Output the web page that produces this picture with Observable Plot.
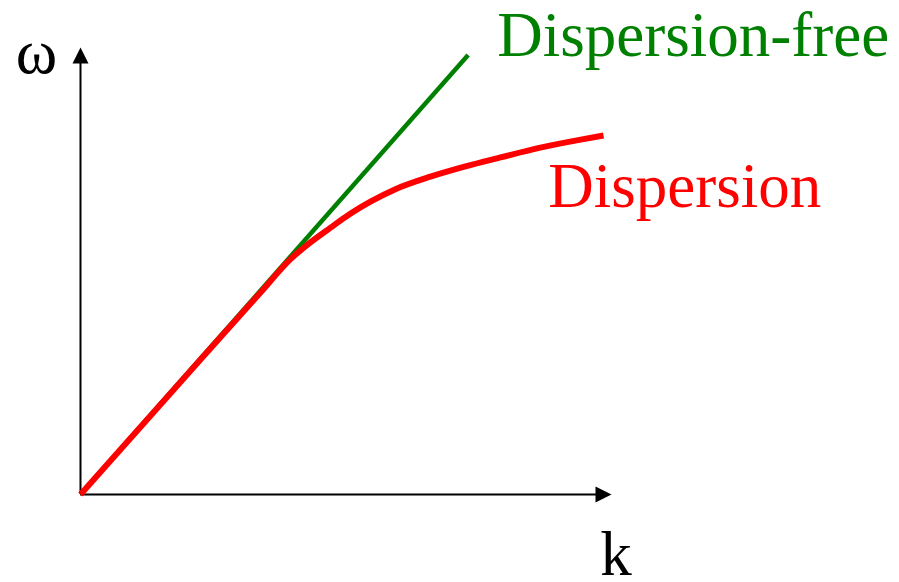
<!DOCTYPE html>
<html>
<head>
<meta charset="utf-8">
<script src="https://cdn.jsdelivr.net/npm/d3@7"></script>
<script src="https://cdn.jsdelivr.net/npm/@observablehq/plot@0.6"></script>
<style>
  html, body { margin: 0; padding: 0; background: #fff; }
  #chart svg { display: block; }
  #chart svg text { font-family: "Liberation Serif", Tinos, "Times New Roman", Times, "DejaVu Serif", serif; }
</style>
</head>
<body>
<div id="chart"></div>
<script>
// Dispersion relation ω(k): linear (dispersion-free) vs. saturating (dispersive)
const freeK = [0, 0.73];
const freeW = [0, 0.983];

const dispK = [0, 0.226, 0.339, 0.395, 0.433, 0.471, 0.508, 0.546, 0.593, 0.659, 0.725, 0.791, 0.866, 0.942, 0.985];
const dispW = [0, 0.302, 0.452, 0.526, 0.564, 0.597, 0.628, 0.655, 0.683, 0.711, 0.734, 0.754, 0.776, 0.794, 0.803];

// Axis extents (arrow tips) in k, ω units
const axisEndK = 1;
const axisEndW = 1;

// Text labels
const labelText = ["ω", "k", "Dispersion-free", "Dispersion"];
const labelK = [-0.122, 0.979, 0.785, 0.881];
const labelW = [0.944, -0.179, 0.982, 0.644];
const labelColor = ["black", "black", "green", "red"];

const freeLine = freeK.map((k, i) => ({k, w: freeW[i]}));
const dispLine = dispK.map((k, i) => ({k, w: dispW[i]}));
const labels = labelText.map((t, i) => ({t, k: labelK[i], w: labelW[i], c: labelColor[i]}));

// Filled arrowhead with its tip at the anchor point, pointing up
const arrowHead = {
  draw(context, size) {
    const h = 2 * Math.sqrt(size / Math.PI);
    context.moveTo(0, 0);
    context.lineTo(h / 2, h);
    context.lineTo(-h / 2, h);
    context.closePath();
  }
};

const serif = "Liberation Serif, Tinos, Times New Roman, Times, DejaVu Serif, serif";

const chart = Plot.plot({
  width: 899,
  height: 582,
  margin: 0,
  style: {fontFamily: serif, background: "white"},
  x: {domain: [0, 1], range: [80, 611], axis: null},
  y: {domain: [0, 1], range: [494, 47], axis: null},
  marks: [
    // axes
    Plot.ruleY([0], {x1: 0, x2: axisEndK - 0.02, stroke: "black", strokeWidth: 2}),
    Plot.ruleX([0], {y1: 0, y2: axisEndW - 0.02, stroke: "black", strokeWidth: 2}),
    Plot.dot([{k: axisEndK, w: 0}], {x: "k", y: "w", symbol: arrowHead, r: 8, fill: "black", stroke: "none", rotate: 90}),
    Plot.dot([{k: 0, w: axisEndW}], {x: "k", y: "w", symbol: arrowHead, r: 8, fill: "black", stroke: "none"}),
    // curves
    Plot.line(freeLine, {x: "k", y: "w", stroke: "green", strokeWidth: 4.5, strokeLinecap: "butt"}),
    Plot.line(dispLine, {x: "k", y: "w", stroke: "red", strokeWidth: 6, curve: "monotone-x", strokeLinecap: "butt"}),
    // labels
    Plot.text(labels, {
      x: "k", y: "w", text: "t", fill: "c",
      textAnchor: "start", lineAnchor: "bottom",
      fontFamily: serif, fontSize: 63
    })
  ]
});

document.getElementById("chart").append(chart);
</script>
</body>
</html>
